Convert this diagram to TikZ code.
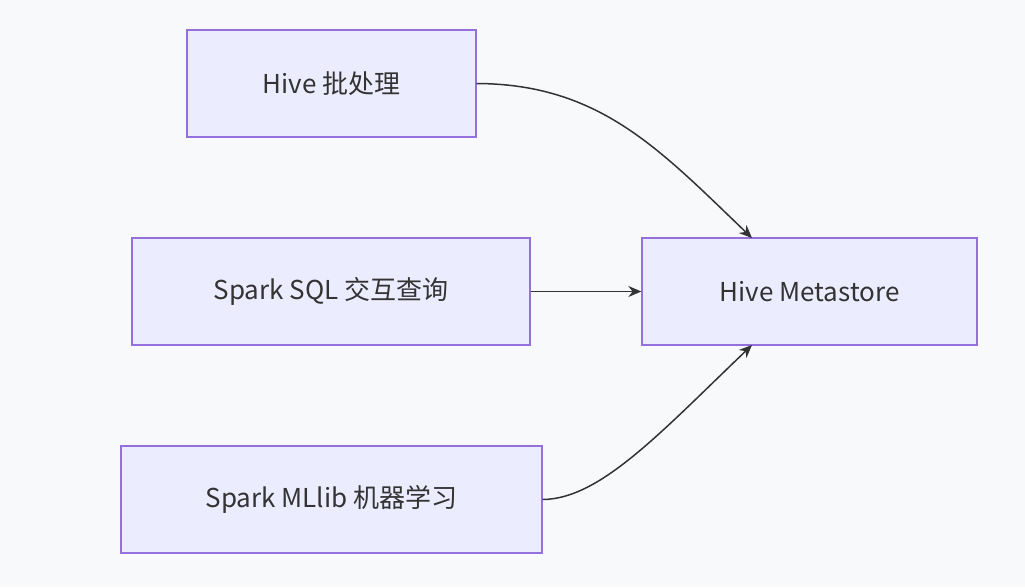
\documentclass[tikz,border=0pt]{standalone}
\usepackage{fontspec}
\setmainfont{Noto Sans CJK SC}
\usetikzlibrary{positioning,arrows.meta}
\definecolor{boxfill}{HTML}{ECECFF}
\definecolor{boxline}{HTML}{9370DB}
\definecolor{ink}{HTML}{333333}
\definecolor{bg}{HTML}{F8F9FB}
\begin{document}
\begin{tikzpicture}[x=1pt,y=-1pt,
                box/.style={draw=boxline, fill=boxfill, line width=1.3pt, minimum height=107pt, text=ink, font=\fontsize{26}{30}\selectfont},
                link/.style={draw=ink, line width=1.5pt, -{Stealth[length=13pt,width=11pt]}}
            ]
                \fill[bg] (0,0) rectangle (1025,587);
                \useasboundingbox (0,0) rectangle (1025,587);
                % --- sources ---
                \node[box, minimum width=289pt] (hive) at (331.5,83.5) {Hive 批处理};
                \node[box, minimum width=398pt] (sql) at (331,291.5) {Spark SQL 交互查询};
                \node[box, minimum width=421pt] (ml) at (331.5,499.5) {Spark MLlib 机器学习};
                % --- target ---
                \node[box, minimum width=335pt] (meta) at (809.5,291.5) {Hive Metastore};
                \coordinate (mt) at (752,238);
                \coordinate (mb) at (752,345);

                \draw[link] (hive.east) .. controls (600,84) and (660,150) .. (mt);
                \draw[link] (sql.east) -- (meta.west);
                \draw[link] (ml.east) .. controls (600,499) and (660,433) .. (mb);
            \end{tikzpicture}
\end{document}
